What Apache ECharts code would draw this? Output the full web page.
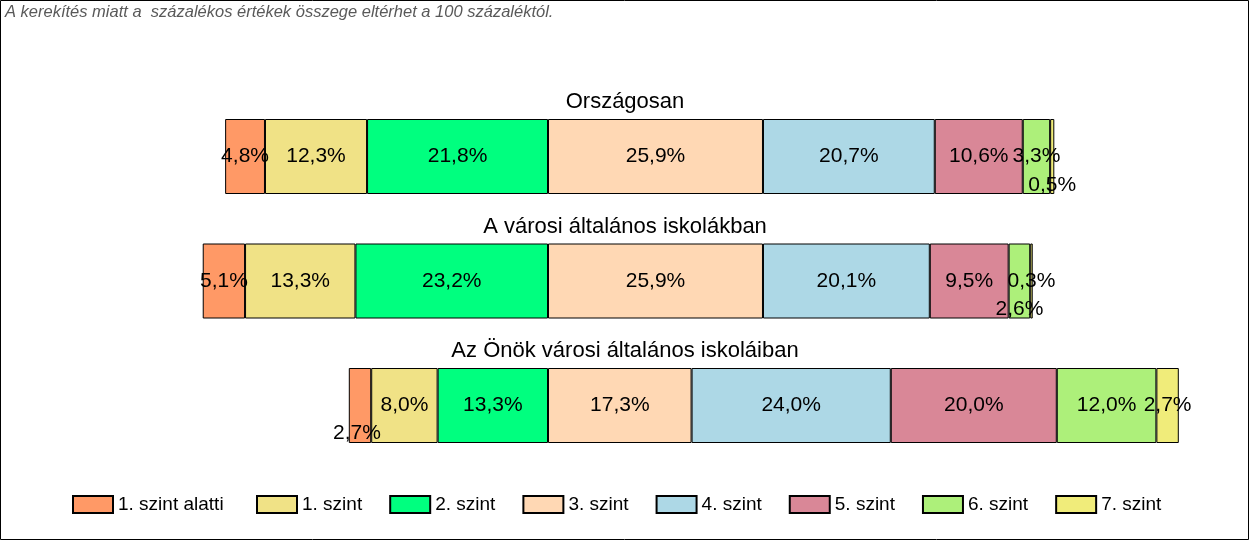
<!DOCTYPE html>
<html>
<head>
<meta charset="utf-8">
<script src="https://cdn.jsdelivr.net/npm/echarts@6/dist/echarts.min.js"></script>
<style>
  html, body { margin: 0; padding: 0; background: #fff; }
  #chart01 { width: 1250px; height: 541px; }
</style>
</head>
<body>
<div id="chart01"></div>
<script>
// adatok
var categories = ["Országosan", "A városi általános iskolákban", "Az Önök városi általános iskoláiban"];
var levels = ["1. szint alatti", "1. szint", "2. szint", "3. szint", "4. szint", "5. szint", "6. szint", "7. szint"];
var lvl0 = [4.8, 5.1, 2.7];
var lvl1 = [12.3, 13.3, 8.0];
var lvl2 = [21.8, 23.2, 13.3];
var lvl3 = [25.9, 25.9, 17.3];
var lvl4 = [20.7, 20.1, 24.0];
var lvl5 = [10.6, 9.5, 20.0];
var lvl6 = [3.3, 2.6, 12.0];
var lvl7 = [0.5, 0.3, 2.7];
var note = "A kerekítés miatt a  százalékos értékek összege eltérhet a 100 százaléktól.";

var colors = ["#FF9966", "#F0E286", "#00FF7F", "#FFD8B4", "#ADD8E6", "#D98797", "#ADF07A", "#F0EC7A"];

// kis szeletek felirata eltolva (szint index -> sor index -> offset)
var labelOffsets = {
    0: {2: [-3, 28]},
    6: {1: [0, 28]},
    7: {0: [0, 29]}
};

var myChart01 = echarts.init(document.getElementById('chart01'));

function fmt(p) {
    return Math.abs(p.value).toFixed(1).replace('.', ',') + '%';
}

function makeSeries(idx, values, negative) {
    return {
        name: levels[idx],
        type: "bar",
        stack: "total",
        barWidth: 75,
        itemStyle: { color: colors[idx], borderColor: "#000", borderWidth: 1 },
        label: {
            show: true,
            position: "inside",
            formatter: fmt,
            color: "#000",
            fontSize: 21,
            fontFamily: "Liberation Sans, Arial, sans-serif"
        },
        emphasis: { disabled: true },
        data: values.map(function (v, i) {
            var item = { value: negative ? -v : v };
            var off = labelOffsets[idx] && labelOffsets[idx][i];
            if (off) item.label = { offset: off };
            return item;
        })
    };
}

var series = [
    makeSeries(2, lvl2, true),
    makeSeries(1, lvl1, true),
    makeSeries(0, lvl0, true),
    makeSeries(3, lvl3, false),
    makeSeries(4, lvl4, false),
    makeSeries(5, lvl5, false),
    makeSeries(6, lvl6, false),
    makeSeries(7, lvl7, false)
];

var legendText = { fontSize: 19, color: "#000", fontFamily: "Liberation Sans, Arial, sans-serif" };

var option = {
    animation: false,
    title: categories.map(function (c, i) {
        return {
            text: c,
            left: "center",
            top: 91 + i * 124.5,
            padding: 0,
            textStyle: { fontSize: 22, fontWeight: "normal", color: "#000", fontFamily: "Liberation Sans, Arial, sans-serif" }
        };
    }),
    legend: [
        {
            data: levels.slice(0, 1),
            left: 72, top: 495, padding: 0,
            itemWidth: 40, itemHeight: 17,
            icon: "rect",
            textStyle: legendText
        },
        {
            data: levels.slice(1),
            left: 256, top: 495, padding: 0,
            itemWidth: 40, itemHeight: 17, itemGap: 27,
            icon: "rect",
            textStyle: legendText
        }
    ],
    grid: { left: 133, right: 38, top: 94.25, bottom: 73.25 },
    xAxis: {
        type: "value",
        min: -50,
        max: 80,
        show: false
    },
    yAxis: {
        type: "category",
        data: categories,
        inverse: true,
        show: false
    },
    graphic: [
        {
            type: "rect",
            shape: { x: 0.5, y: 0.5, width: 1248, height: 539 },
            style: { fill: null, stroke: "#000", lineWidth: 1 },
            silent: true
        },
        {
            type: "text",
            left: 5, top: 4,
            style: {
                text: note,
                fill: "#595959",
                font: "italic 16.5px 'Liberation Sans', Arial, sans-serif"
            }
        }
    ],
    series: series
};
myChart01.setOption(option);
</script>
</body>
</html>
